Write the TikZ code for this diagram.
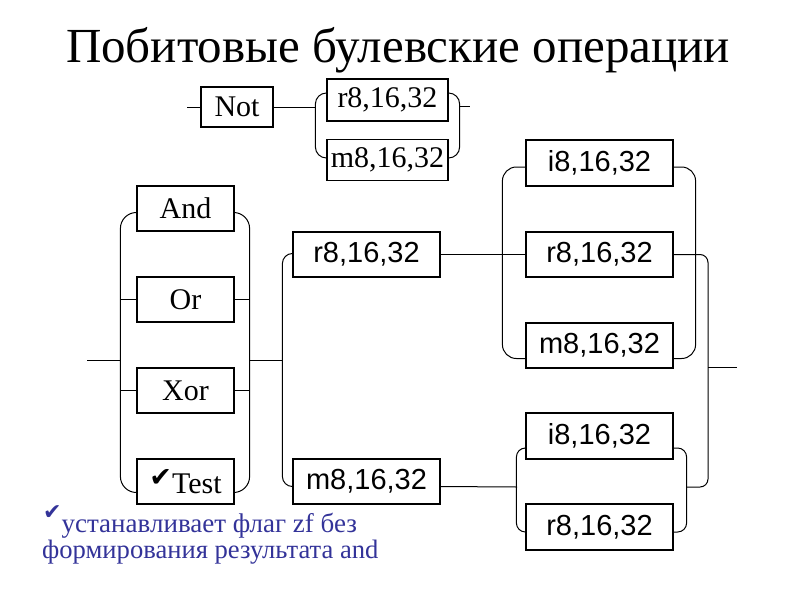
\documentclass[tikz,border=0pt]{standalone}
\usepackage{fontspec}
\setmainfont{Liberation Serif}
\newfontfamily\arialfont{Liberation Sans}
\newfontfamily\symfont{DejaVu Sans}
\usetikzlibrary{calc}
\definecolor{notecol}{RGB}{51,51,153}
\tikzset{
  opbox/.style={draw, line width=1.2pt, inner sep=0pt, minimum width=97pt, minimum height=45pt, font=\fontsize{30}{30}\selectfont},
  regbox/.style={draw, line width=1.2pt, inner sep=0pt, minimum width=147pt, minimum height=45pt, font=\arialfont\fontsize{29}{29}\selectfont},
  brk/.style={line width=1pt, rounded corners=#1},
  brk/.default=12pt,
  wire/.style={line width=1pt},
}
\newcommand{\chk}[2]{\raisebox{#2}{\symfont\fontsize{#1}{#1}\selectfont ✔}}
\begin{document}
\begin{tikzpicture}[x=1pt,y=-1pt]
  \useasboundingbox (0,0) rectangle (800,600);
  % title
  \node[anchor=base, font=\fontsize{49}{49}\selectfont] (title) at (398,62) {Побитовые булевские операции};

  % Not with its operand
  \node[opbox, minimum width=72pt, minimum height=40pt] (not) at (237,107) {Not};
  \node[opbox, minimum width=121pt, minimum height=42pt] (nr) at (387.5,100) {r8,16,32};
  \node[opbox, minimum width=121pt, minimum height=41pt] (nm) at (387.5,160) {m8,16,32};
  \coordinate (notin) at (187,107);
  \coordinate (notout) at (470,106);
  \draw[wire] (notin) -- (not.west);
  \draw[wire] (not.east) -- (316,107);
  \draw[brk=11pt] ($(nr.west)+(0,-7)$) -- ++(-11,0) |- ($(nm.west)+(0,-2)$);
  \draw[brk=11pt] ($(nr.east)+(0,-7)$) -- ++(11,0) |- ($(nm.east)+(0,-2)$);
  \draw[wire] (459,106) -- (notout);

  % two-operand instructions
  \node[opbox] (and) at (185.5,208.5) {And};
  \node[opbox] (or) at (185.5,299.5) {Or};
  \node[opbox] (xor) at (185.5,390.5) {Xor};
  \node[opbox] (test) at (185.5,481.5) {\chk{27}{7pt}Test};
  \draw[brk=16pt] ($(and.west)+(0,4)$) -- ++(-16,0) |- ($(test.west)+(0,11)$);
  \draw[brk=16pt] ($(and.east)+(0,4)$) -- ++(15,0) |- ($(test.east)+(0,11)$);
  \foreach \n in {or,xor} {
    \draw[wire] (\n.west) -- ++(-16,0);
    \draw[wire] (\n.east) -- ++(15,0);
  }
  \coordinate (in) at (87,360);
  \draw[wire] (in) -- (121,360);
  \draw[wire] (249,360) -- (283,360);

  % first operand
  \node[regbox] (mr) at (366.5,254.5) {r8,16,32};
  \node[regbox] (mm) at (366.5,481.5) {m8,16,32};
  \draw[brk=10pt] ($(mr.west)+(0,-1)$) -- ++(-10,0) |- ($(mm.west)+(0,5)$);

  % second operand
  \node[regbox, minimum height=46pt] (ti) at (599.5,163) {i8,16,32};
  \node[regbox] (tr) at (599.5,254.5) {r8,16,32};
  \node[regbox] (tm) at (599.5,345.5) {m8,16,32};
  \node[regbox, minimum height=46pt] (bi) at (599.5,436) {i8,16,32};
  \node[regbox, minimum height=46pt] (br) at (599.5,527) {r8,16,32};
  \draw[brk=14pt] ($(ti.west)+(0,4)$) -- ++(-23,0) |- ($(tm.west)+(0,13)$);
  \draw[brk=14pt] ($(ti.east)+(0,4)$) -- ++(22,0) |- ($(tm.east)+(0,13)$);
  \draw[brk=9pt] ($(bi.west)+(0,12)$) -- ++(-9,0) |- ($(br.west)+(0,5)$);
  \draw[brk=9pt] ($(bi.east)+(0,12)$) -- ++(13,0) |- ($(br.east)+(0,5)$);

  % connections
  \draw[wire] (mr.east) -- (tr.west);
  \draw[wire] ($(mm.east)+(0,5)$) -- (517,487);
  \draw[brk=8pt] (tr.east) -- (708,254.5) -- (708,487) -- (686,487);
  \coordinate (out) at (737,367);
  \draw[wire] (708,367) -- (out);

  % note
  \node[anchor=base west, inner sep=0pt, text=notecol, font=\fontsize{27}{27}\selectfont] (note1) at (43,532) {\chk{22}{13pt}устанавливает флаг zf без};
  \node[anchor=base west, inner sep=0pt, text=notecol, font=\fontsize{26.6}{27}\selectfont] (note2) at (42,558) {формирования результата and};
\end{tikzpicture}
\end{document}
